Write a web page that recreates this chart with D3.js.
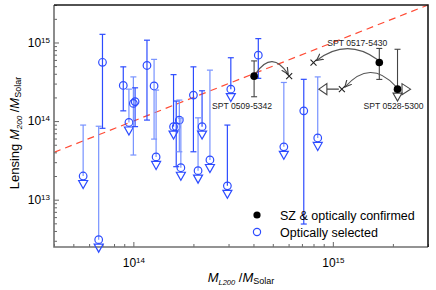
<!DOCTYPE html>
<html lang="en">
<head>
<meta charset="utf-8">
<script src="https://d3js.org/d3.v7.min.js"></script>
<title>Lensing mass vs richness mass</title>
<style>
  body { margin: 0; background: #fff; }
  svg { display: block; font-family: "Liberation Sans", Arial, sans-serif; }
</style>
</head>
<body>
<div id="chart"></div>
<script>
// optically selected clusters (null in optLo = upper limit)
const optMl = [5.6e13, 7.0e13, 6.7e13, 8.9e13, 9.5e13, 1.0e14, 1.02e14, 1.17e14, 1.27e14, 1.30e14, 1.59e14, 1.64e14,
               1.70e14, 1.73e14, 2.0e14, 2.11e14, 2.21e14, 2.42e14, 2.96e14, 3.08e14, 4.23e14, 5.68e14, 7.15e14, 8.4e14];
const optM  = [2.0e13, 5.6e14, 3.1e12, 2.84e14, 9.6e13, 1.68e14, 1.77e14, 5.1e14, 2.8e14, 3.5e13, 8.5e13, 8.5e13,
               1.03e14, 2.55e13, 2.14e14, 2.34e13, 8.5e13, 3.2e13, 1.5e13, 2.55e14, 6.9e14, 4.7e13, 1.35e14, 6.1e13];
const optHi = [8.9e13, 1.27e15, 8.6e13, 4.9e14, 2.55e14, 3.65e14, 2.65e14, 1.07e15, 6.1e14, 2.48e14, 3.9e14, 1.8e14,
               1.85e14, 1.09e14, 4.9e14, 1.1e14, 2.43e14, 4.45e14, 8.9e13, 6.4e14, 1.12e15, 3.1e14, 3.4e14, 3.65e14];
const optLo = [null, 8.1e13, null, 1.35e14, null, 3.7e13, 8.5e13, 1.03e14, 5.9e13, null, null, 2.63e13,
               4.07e13, null, 4.07e13, null, null, null, null, null, 3.5e14, null, 4.9e12, null];
const optFaint = [1, 0, 1, 0, 1, 1, 0, 0, 1, 1, 0, 0, 1, 1, 0, 1, 0, 1, 0, 0, 0, 1, 0, 1];

// SZ & optically confirmed clusters
const szNames = ["SPT 0509-5342", "SPT 0517-5430", "SPT 0528-5300"];
const szMl    = [4.03e14, 1.71e15, 2.11e15];
const szM     = [3.73e14, 5.56e14, 2.55e14];
const szHi    = [5.83e14, 8.4e14, 8.2e14];
const szLo    = [2.04e14, 3.39e14, null];
const szMlSz  = [6.04e14, 8.0e14, 1.11e15];   // where the cross marks sit
const szLimit = [false, false, true];

const xMajor = [1e14, 1e15];
const yMajor = [1e13, 1e14, 1e15];

// label placement, pixels
const szLabelDx = [-12, -22, -4];
const szLabelDy = [33, -17, 20];
const szBend = [-19, -18, -22];

const W = 436, H = 290;
const m = {left: 54, right: 428, top: 5, bottom: 247};

const x = d3.scaleLog().domain([4e13, 3e15]).range([m.left, m.right]);
const y = d3.scaleLog().domain([2.5e12, 3e15]).range([m.bottom, m.top]);

const blue = "#2d4cff", blueFaint = "#7792ff", gray = "#444";

const svg = d3.select("#chart").append("svg")
    .attr("width", W).attr("height", H);

function minors(dom) {
    const out = [];
    for (let e = 12; e <= 15; e++) {
        for (let k = 2; k <= 9; k++) {
            const v = k * Math.pow(10, e);
            if (v >= dom[0] && v <= dom[1]) out.push(v);
        }
    }
    return out;
}

function powLabel(g) {
    g.selectAll(".tick text").each(function(d) {
        const t = d3.select(this).attr("font-size", 12).attr("fill", "#000");
        t.append("tspan").text("10");
        t.append("tspan").attr("dy", "-0.5em").attr("font-size", 8).text(Math.round(Math.log10(d)));
    });
}

// one-to-one line
svg.append("line")
    .attr("x1", x(4e13)).attr("y1", y(4e13))
    .attr("x2", x(3e15)).attr("y2", y(3e15))
    .attr("stroke", "#ff4b35").attr("stroke-width", 1.2)
    .attr("stroke-dasharray", "7,5");

// axes
const xAxisG = svg.append("g").attr("transform", `translate(0,${m.bottom})`);
xAxisG.append("g").call(d3.axisBottom(x).tickValues(minors(x.domain())).tickSize(-3).tickFormat(""));
xAxisG.append("g").call(d3.axisBottom(x).tickValues(xMajor).tickSizeInner(-5).tickSizeOuter(0)
    .tickPadding(11).tickFormat(() => "")).call(powLabel);

const yAxisG = svg.append("g").attr("transform", `translate(${m.left},0)`);
yAxisG.append("g").call(d3.axisLeft(y).tickValues(minors(y.domain())).tickSize(-3).tickFormat(""));
yAxisG.append("g").call(d3.axisLeft(y).tickValues(yMajor).tickSizeInner(-5).tickSizeOuter(0)
    .tickPadding(4).tickFormat(() => "")).call(powLabel);

svg.selectAll(".domain").remove();
svg.selectAll(".tick line").attr("stroke", "#666");

// frame
svg.append("path").attr("d", `M${m.left},${m.top}V${m.bottom}H${m.right}`)
    .attr("fill", "none").attr("stroke", "#707070").attr("stroke-width", 1.6);
svg.append("path").attr("d", `M${m.left},${m.top}H${m.right}V${m.bottom}`)
    .attr("fill", "none").attr("stroke", "#1a1a1a").attr("stroke-width", 1.6);

// optically selected points
const opt = optMl.map((v, i) => ({ml: v, m: optM[i], hi: optHi[i], lo: optLo[i], faint: optFaint[i]}));
const og = svg.append("g").attr("fill", "none").attr("stroke-width", 1.2);

opt.forEach(d => {
    const cx = x(d.ml), cy = y(d.m), col = d.faint ? blueFaint : blue;
    const g = og.append("g").attr("stroke", col);
    const yb = d.lo === null ? cy : y(d.lo);
    g.append("line").attr("x1", cx).attr("x2", cx).attr("y1", y(d.hi)).attr("y2", yb);
    g.append("line").attr("x1", cx - 3).attr("x2", cx + 3).attr("y1", y(d.hi)).attr("y2", y(d.hi));
    if (d.lo !== null) {
        g.append("line").attr("x1", cx - 3).attr("x2", cx + 3).attr("y1", yb).attr("y2", yb);
    } else {
        g.append("path").attr("stroke", blue)
            .attr("d", `M${cx - 4.5},${cy + 4.5}H${cx + 4.5}L${cx},${cy + 12.5}Z`);
    }
    g.append("circle").attr("cx", cx).attr("cy", cy).attr("r", 3.8).attr("stroke", blue);
});

// SZ points
svg.append("defs").append("marker")
    .attr("id", "arr").attr("viewBox", "0 0 8 8").attr("refX", 7).attr("refY", 4)
    .attr("markerWidth", 7).attr("markerHeight", 7).attr("orient", "auto")
    .append("path").attr("d", "M0,0.5L7,4L0,7.5").attr("fill", "none").attr("stroke", gray).attr("stroke-width", 1.2);

const sg = svg.append("g").attr("fill", "none").attr("stroke", gray).attr("stroke-width", 1.1);
szNames.forEach((name, i) => {
    const cx = x(szMl[i]), cy = y(szM[i]), xx = x(szMlSz[i]);
    const yt = y(szHi[i]), yb = szLo[i] === null ? cy : y(szLo[i]);
    sg.append("line").attr("x1", cx).attr("x2", cx).attr("y1", yt).attr("y2", yb);
    sg.append("line").attr("x1", cx - 3).attr("x2", cx + 3).attr("y1", yt).attr("y2", yt);
    if (szLo[i] !== null) sg.append("line").attr("x1", cx - 3).attr("x2", cx + 3).attr("y1", yb).attr("y2", yb);

    // curved arrow from point to cross
    const p = d3.path();
    const sx = cx + (xx > cx ? 2 : -2), sy = cy - 3, ex = xx + (xx > cx ? -1 : 3), ey = cy - 2;
    p.moveTo(sx, sy);
    p.quadraticCurveTo((sx + ex) / 2, cy + szBend[i] * 1.4, ex, ey);
    sg.append("path").attr("d", p.toString()).attr("stroke", "#555").attr("marker-end", "url(#arr)");

    // cross
    sg.append("path").attr("stroke", "#222")
        .attr("d", `M${xx - 3},${cy - 3}L${xx + 3},${cy + 3}M${xx - 3},${cy + 3}L${xx + 3},${cy - 3}`);

    if (szLimit[i]) {
        sg.append("path").attr("d", `M${cx - 4.5},${cy + 4}H${cx + 4.5}L${cx},${cy + 12}Z`);
        sg.append("path").attr("d", `M${cx + 4.5},${cy - 5.5}V${cy + 5.5}L${cx + 13},${cy}Z`);
        sg.append("path").attr("d", `M${xx - 3},${cy}H${xx - 15}M${xx - 15},${cy - 5.5}V${cy + 5.5}L${xx - 23},${cy}Z`);
    }
    svg.append("circle").attr("cx", cx).attr("cy", cy).attr("r", 3.8).attr("fill", "#000");

    svg.append("text").attr("x", cx + szLabelDx[i]).attr("y", cy + szLabelDy[i])
        .attr("text-anchor", "middle").attr("font-size", 8.6).attr("fill", "#222").text(name);
});

// legend
const lg = svg.append("g").attr("font-size", 12.5);
lg.append("circle").attr("cx", 257).attr("cy", 215).attr("r", 3.6).attr("fill", "#000");
lg.append("text").attr("x", 280).attr("y", 220).text("SZ & optically confirmed");
lg.append("circle").attr("cx", 257).attr("cy", 232).attr("r", 3.6).attr("fill", "none")
    .attr("stroke", blue).attr("stroke-width", 1.2);
lg.append("text").attr("x", 280).attr("y", 237).text("Optically selected");

// axis titles
const xt = svg.append("text").attr("x", (m.left + m.right) / 2).attr("y", 282)
    .attr("text-anchor", "middle").attr("font-size", 13);
xt.append("tspan").attr("font-style", "italic").text("M");
xt.append("tspan").attr("font-size", 7.5).attr("dy", 3).attr("font-style", "italic").text("L");
xt.append("tspan").attr("font-size", 7.5).attr("font-style", "italic").text("200");
xt.append("tspan").attr("dy", -3).text(" /");
xt.append("tspan").attr("font-style", "italic").text("M");
xt.append("tspan").attr("font-size", 9).attr("dy", 2).text("Solar");

const yt = svg.append("text").attr("transform", `translate(19,${(m.top + m.bottom) / 2 + 7}) rotate(-90)`)
    .attr("text-anchor", "middle").attr("font-size", 13);
yt.append("tspan").text("Lensing ");
yt.append("tspan").attr("font-style", "italic").text("M");
yt.append("tspan").attr("font-size", 8).attr("dy", 3).attr("font-style", "italic").text("200");
yt.append("tspan").attr("dy", -3).text(" /");
yt.append("tspan").attr("font-style", "italic").text("M");
yt.append("tspan").attr("font-size", 9).attr("dy", 2).text("Solar");
</script>
</body>
</html>
